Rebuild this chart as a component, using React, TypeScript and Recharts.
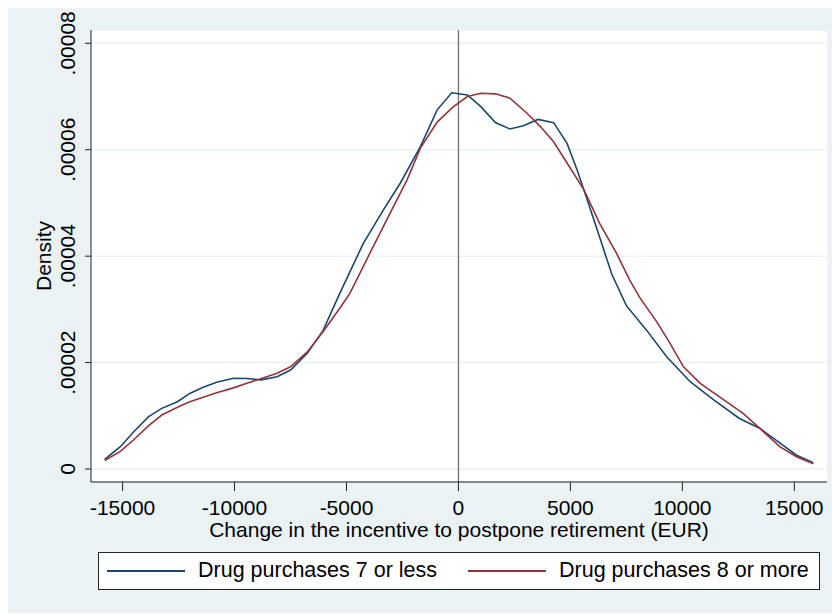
import { LineChart, Line, XAxis, YAxis, CartesianGrid, ReferenceLine } from 'recharts';

// kernel density estimates (x in EUR, y = density)
const blueX = [-15800, -15100, -14500, -13850, -13250, -12550, -12000, -11400, -10800, -10050, -9450, -8800, -8100, -7500, -6750, -6050, -5300, -4250, -3350, -2600, -1700, -950, -300, 400, 1000, 1650, 2300, 2900, 3550, 4250, 4850, 5300, 5750, 6200, 6850, 7500, 8400, 9300, 10350, 11400, 12550, 13450, 14350, 15100, 15850];
const blueY = [1.8e-6, 4.2e-6, 7.0e-6, 9.8e-6, 1.14e-5, 1.265e-5, 1.42e-5, 1.535e-5, 1.63e-5, 1.705e-5, 1.70e-5, 1.675e-5, 1.735e-5, 1.86e-5, 2.175e-5, 2.6e-5, 3.3e-5, 4.24e-5, 4.87e-5, 5.37e-5, 6.06e-5, 6.75e-5, 7.07e-5, 7.03e-5, 6.81e-5, 6.51e-5, 6.39e-5, 6.45e-5, 6.57e-5, 6.51e-5, 6.12e-5, 5.62e-5, 5.06e-5, 4.49e-5, 3.66e-5, 3.07e-5, 2.61e-5, 2.11e-5, 1.64e-5, 1.30e-5, 9.5e-6, 7.65e-6, 4.9e-6, 2.6e-6, 1.2e-6];

const redX = [-15800, -15100, -14500, -13850, -13250, -12550, -12000, -11400, -10800, -10050, -9450, -8800, -8100, -7500, -6750, -6050, -5300, -4850, -3950, -3050, -2300, -1700, -950, -250, 400, 1000, 1650, 2300, 3050, 3650, 4250, 4850, 5600, 6300, 7050, 7650, 8100, 8850, 9450, 10050, 10800, 11850, 12700, 13550, 14350, 15100, 15850];
const redY = [1.6e-6, 3.3e-6, 5.5e-6, 8.1e-6, 1.015e-5, 1.16e-5, 1.265e-5, 1.35e-5, 1.435e-5, 1.525e-5, 1.61e-5, 1.70e-5, 1.80e-5, 1.92e-5, 2.2e-5, 2.58e-5, 3.02e-5, 3.30e-5, 4.06e-5, 4.81e-5, 5.43e-5, 6.03e-5, 6.52e-5, 6.8e-5, 7.0e-5, 7.06e-5, 7.05e-5, 6.97e-5, 6.69e-5, 6.44e-5, 6.15e-5, 5.75e-5, 5.25e-5, 4.62e-5, 4.06e-5, 3.55e-5, 3.22e-5, 2.77e-5, 2.36e-5, 1.92e-5, 1.61e-5, 1.30e-5, 1.05e-5, 7.3e-6, 4.2e-6, 2.3e-6, 1.0e-6];

const xTicks = [-15000, -10000, -5000, 0, 5000, 10000, 15000];
const yTicks = [0, 0.00002, 0.00004, 0.00006, 0.00008];
const yTickLabels = ['0', '.00002', '.00004', '.00006', '.00008'];

const seriesNames = ['Drug purchases 7 or less', 'Drug purchases 8 or more'];
const BLUE = '#1a476f';
const RED = '#90353b';
const BG = '#eaf2f3';
const FONT = '"Liberation Sans", Arial, sans-serif';

const blueData = blueX.map((x, i) => ({ x, y: blueY[i] }));
const redData = redX.map((x, i) => ({ x, y: redY[i] }));

function YTick(props: any) {
  const { x, y, payload } = props;
  const cx = x - 15.5;
  const idx = yTicks.indexOf(payload.value);
  return (
    <text
      x={cx}
      y={y}
      transform={`rotate(-90, ${cx}, ${y})`}
      textAnchor="middle"
      dominantBaseline="central"
      fontSize={21}
      fontFamily={FONT}
      fill="#000"
    >
      {idx >= 0 ? yTickLabels[idx] : payload.value}
    </text>
  );
}

function LegendItem({ color, label, left }: { color: string; label: string; left: number }) {
  return (
    <div style={{ position: 'absolute', left, top: 0, height: 36, display: 'flex', alignItems: 'center' }}>
      <span style={{ display: 'inline-block', width: 78, height: 2, background: color, marginRight: 13 }} />
      <span style={{ fontSize: 21.5, fontFamily: FONT, color: '#000', whiteSpace: 'nowrap' }}>{label}</span>
    </div>
  );
}

export default function App() {
  return (
    <div style={{ position: 'relative', width: 832, height: 605, background: BG }}>
      <style>{'html,body{overflow:hidden}'}</style>
      <LineChart width={832} height={605} margin={{ top: 22, right: 13, bottom: 71, left: 0 }}>
        <CartesianGrid vertical={false} stroke={BG} strokeWidth={1.5} fill="#fff" />
        <XAxis
          dataKey="x"
          type="number"
          domain={[-16411, 16460]}
          ticks={xTicks}
          allowDataOverflow
          height={60}
          tickSize={9}
          tickMargin={9}
          stroke="#222"
          tick={{ fill: '#000', fontSize: 21, fontFamily: FONT }}
          label={{
            value: 'Change in the incentive to postpone retirement (EUR)',
            position: 'insideBottom',
            offset: 5,
            fill: '#000',
            fontSize: 21,
            fontFamily: FONT,
          }}
        />
        <YAxis
          type="number"
          domain={[-0.00000244, 0.0000825]}
          ticks={yTicks}
          allowDataOverflow
          width={83}
          tickSize={6}
          tickMargin={2}
          stroke="#222"
          tick={<YTick />}
          label={{
            value: 'Density',
            angle: -90,
            position: 'insideLeft',
            offset: 36,
            fill: '#000',
            fontSize: 21,
            fontFamily: FONT,
            style: { textAnchor: 'middle' },
          }}
        />
        <ReferenceLine x={0} stroke="#6f6f6f" strokeWidth={1.3} />
        <Line data={blueData} dataKey="y" type="linear" stroke={BLUE} strokeWidth={1.6} dot={false} isAnimationActive={false} name={seriesNames[0]} />
        <Line data={redData} dataKey="y" type="linear" stroke={RED} strokeWidth={1.6} dot={false} isAnimationActive={false} name={seriesNames[1]} />
      </LineChart>
      <div
        style={{
          position: 'absolute',
          left: 90,
          top: 543.7,
          width: 722,
          height: 38,
          background: '#fff',
          border: '1px solid #222',
          boxSizing: 'border-box',
        }}
      >
        <LegendItem color={BLUE} label={seriesNames[0]} left={8} />
        <LegendItem color={RED} label={seriesNames[1]} left={369} />
      </div>
    </div>
  );
}
